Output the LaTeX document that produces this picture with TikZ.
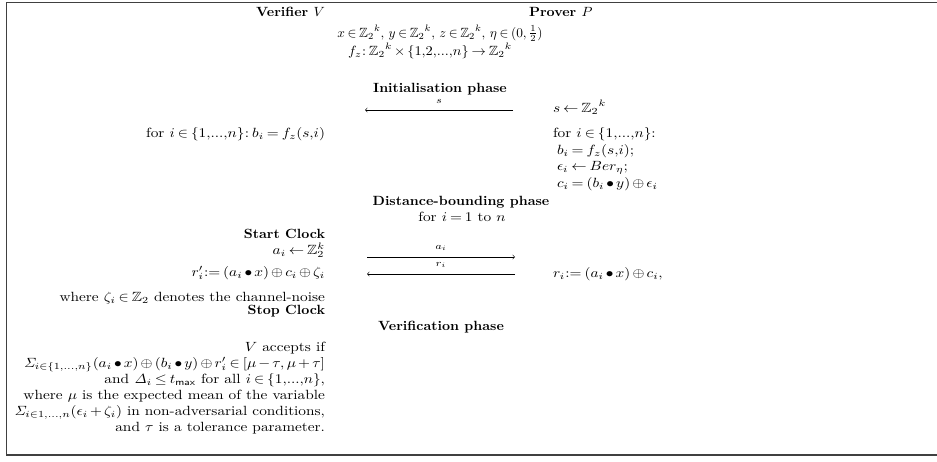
\documentclass[tikz,border=0pt]{standalone}
\usepackage{amssymb}
\thickmuskip=3.5mu plus 1mu
\medmuskip=2.5mu plus 1mu
\begin{document}
\begin{tikzpicture}[x=0.75pt,y=-0.75pt,
  txt/.style={inner sep=0pt,outer sep=0pt,xscale=1.15},
  lt/.style={txt,anchor=base east},
  rt/.style={txt,anchor=base west},
  ct/.style={txt,anchor=base},
  bold/.style={xscale=0.913,font=\bfseries},
  msg/.style={draw,line width=0.4pt,-to},
  lab/.style={txt,above=5pt,font=\scriptsize},
  frame/.style={draw=black!75,line width=1.1pt}]
\useasboundingbox (0,0) rectangle (937,461);
% frame (right side cut off)
\draw[frame] (937,2.5) -- (6.5,2.5) -- (6.5,455) -- (937,455);
% headers
\node[lt,bold] (ver) at (325,16) {Verifier \mdseries$V$};
\node[rt,bold] (prv) at (529,16) {Prover \mdseries$P$};
\node[ct,xscale=0.87] (m1) at (440,37) {$x\in{\mathbb{Z}_2}^k,\, y\in{\mathbb{Z}_2}^k,\, z\in{\mathbb{Z}_2}^k,\, \eta\in(0,\frac{1}{2})$};
\node[ct,xscale=0.94] (m2) at (430,55) {$f_z\!:{\mathbb{Z}_2}^k\times\{1{,}2{,}...{,}n\}\rightarrow{\mathbb{Z}_2}^k$};
% initialisation
\node[ct,bold] (ph1) at (440,92) {Initialisation phase};
\node[rt] (s) at (553,112) {$s\leftarrow{\mathbb{Z}_2}^k$};
\coordinate (sR) at (513,110);
\coordinate (sL) at (365,110);
\draw[msg] (sR) -- node[lab] {$s$} (sL);
\node[lt] (vb) at (325,137) {for $i\in\{1{,}...{,}n\}\!: b_i=f_z(s{,}i)$};
\node[rt] (pf) at (553,137) {for $i\in\{1{,}...{,}n\}$:};
\node[rt] (pb) at (557,154) {$b_i=f_z(s{,}i);$};
\node[rt] (pe) at (557,170) {$\epsilon_i\leftarrow Ber_\eta;$};
\node[rt] (pc) at (557,187) {$c_i=(b_i\bullet y)\oplus\epsilon_i$};
% distance bounding
\node[ct,bold] (ph2) at (461,205) {Distance-bounding phase};
\node[ct] (loop) at (462,221) {for $i=1$ to $n$};
\node[lt,bold] (sc) at (325,238) {Start Clock};
\node[lt] (ai) at (325,254) {$a_i\leftarrow\mathbb{Z}_2^k$};
\coordinate (aL) at (367,257);
\coordinate (aR) at (515,257);
\draw[msg] (aL) -- node[lab] {$a_i$} (aR);
\node[lt] (rp) at (325,276) {$r_i'\!:=(a_i\bullet x)\oplus c_i\oplus\zeta_i$};
\coordinate (rR) at (515,274);
\coordinate (rL) at (367,274);
\draw[msg] (rR) -- node[lab] {$r_i$} (rL);
\node[rt] (ri) at (553,277) {$r_i\!:=(a_i\bullet x)\oplus c_i,$};
\node[lt] (wz) at (325,301) {where $\zeta_i\in\mathbb{Z}_2$ denotes the channel-noise};
\node[lt,bold] (stc) at (325,314) {Stop Clock};
% verification
\node[ct,bold] (ph3) at (441,330) {Verification phase};
\node[lt] (v1) at (325,351) {$V$ accepts if};
\node[lt] (v2) at (325,367) {$\mathit{\Sigma}_{i\in\{1,\ldots,n\}}(a_i\bullet x)\oplus(b_i\bullet y)\oplus r_i'\in[\mu-\tau,\mu+\tau]$};
\node[lt] (v3) at (325,383) {and $\mathit{\Delta}_i\leq t_{\mathsf{max}}$ for all $i\in\{1{,}...{,}n\}$,};
\node[lt] (v4) at (325,399) {where $\mu$ is the expected mean of the variable};
\node[lt] (v5) at (325,415) {$\mathit{\Sigma}_{i\in1,\ldots,n}(\epsilon_i+\zeta_i)$ in non-adversarial conditions,};
\node[lt] (v6) at (325,431) {and $\tau$ is a tolerance parameter.};
\end{tikzpicture}
\end{document}
